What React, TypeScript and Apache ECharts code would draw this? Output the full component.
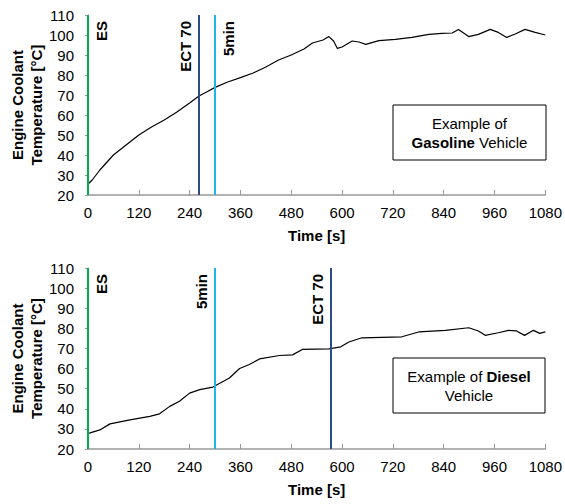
import React, { useEffect, useRef } from "react";
import * as echarts from "echarts";

const FONT = "'Liberation Sans', Arial, sans-serif";

const gasolineTime = [0, 10, 28, 60, 99, 120, 150, 180, 210, 240, 262, 280, 300, 330, 360, 390, 420, 450, 480, 510, 530, 555, 569, 580, 589, 600, 624, 640, 656, 687, 726, 765, 805, 836, 860, 875, 899, 922, 950, 969, 989, 1009, 1032, 1056, 1080];
const gasolineTemp = [25.5, 27.5, 32.5, 40, 46.5, 50, 54, 57.5, 61.5, 66, 69.5, 71.5, 73.8, 76.5, 78.7, 81, 84, 87.5, 90, 93, 96, 97.5, 99.2, 97, 93.3, 94, 97, 96.5, 95.3, 97.2, 97.8, 98.8, 100.3, 100.8, 101, 102.8, 99.2, 100.3, 102.8, 101.3, 98.8, 100.5, 102.8, 101.3, 100];

const dieselTime = [0, 5, 28, 52, 99, 146, 169, 193, 216, 240, 264, 295, 334, 358, 381, 405, 452, 483, 506, 569, 597, 616, 647, 741, 781, 844, 899, 922, 938, 969, 993, 1012, 1031, 1052, 1067, 1080];
const dieselTemp = [27.8, 28, 29.5, 32.5, 34.5, 36.2, 37.5, 41.2, 43.7, 47.8, 49.5, 50.8, 55.3, 60, 62, 64.8, 66.5, 66.8, 69.5, 69.8, 70.8, 73.2, 75.3, 75.8, 78.2, 79, 80.3, 78.7, 76.5, 77.8, 79, 78.7, 76.5, 79, 77.5, 78.2];

const xTicks = { min: 0, max: 1080, interval: 120 };
const yTicks = { min: 20, max: 110, interval: 10 };

const markerNames = ["ES", "ECT 70", "5min"];
const gasolineMarkers = [0, 262, 300];
const dieselMarkers = [0, 573, 300];
const markerColors = ["#00B050", "#2B4C86", "#1EB4EC"];
const gasolineLabelSide = ["insideEndBottom", "insideEndTop", "insideEndBottom"];
const dieselLabelSide = ["insideEndBottom", "insideEndTop", "insideEndTop"];

const xAxisTitle = "Time [s]";
const yAxisTitle = ["Engine Coolant", "Temperature [°C]"];

function markLines(values: number[], sides: string[]) {
  return values.map((v, i) => [
    {
      name: markerNames[i],
      coord: [v, yTicks.min],
      lineStyle: { color: markerColors[i], width: 2, type: "solid" },
      label: {
        show: true,
        formatter: markerNames[i],
        position: sides[i],
        distance: 6,
        color: "#000",
        fontWeight: "bold",
        fontSize: 15,
        fontFamily: FONT,
      },
    },
    { coord: [v, yTicks.max] },
  ]);
}

export default function App() {
  const ref = useRef<HTMLDivElement>(null);
  useEffect(() => {
    if (!ref.current) return;
    const chart = echarts.init(ref.current, null, { renderer: "svg" });
    const grids = [
      { left: 88, top: 15, width: 459, height: 180 },
      { left: 88, top: 268, width: 459, height: 181 },
    ];
    const xAxisCommon = {
      type: "value",
      ...xTicks,
      name: xAxisTitle,
      nameLocation: "middle",
      nameGap: 33,
      nameTextStyle: { fontWeight: "bold", fontSize: 15, color: "#000", fontFamily: FONT },
      axisLine: { show: true, lineStyle: { color: "#999", width: 1.5 } },
      axisTick: { show: true, inside: true, length: 5, lineStyle: { color: "#999" } },
      axisLabel: { color: "#000", fontSize: 15, margin: 10, fontFamily: FONT, formatter: (v: number) => String(v) },
      splitLine: { show: false },
    };
    const yAxisCommon = {
      type: "value",
      ...yTicks,
      axisLine: { show: true, lineStyle: { color: "#999" } },
      axisTick: { show: true, inside: false, length: 3, lineStyle: { color: "#999" } },
      axisLabel: { color: "#000", fontSize: 15, margin: 14, fontFamily: FONT },
      splitLine: { show: false },
    };
    const yTitle = (cy: number) =>
      yAxisTitle.map((t, i) => ({
        type: "text",
        x: 17 + i * 19,
        y: cy,
        rotation: Math.PI / 2,
        style: {
          text: t,
          fill: "#000",
          font: `bold 15px ${FONT}`,
          textAlign: "center",
          textVerticalAlign: "middle",
        },
      }));
    const box = (x: number, y: number, w: number, h: number, text: string) => [
      {
        type: "rect",
        shape: { x, y, width: w, height: h },
        style: { fill: "#fff", stroke: "#000", lineWidth: 1 },
        z: 10,
      },
      {
        type: "text",
        x: x + w / 2,
        y: y + h / 2,
        z: 11,
        style: {
          text,
          textAlign: "center",
          textVerticalAlign: "middle",
          fill: "#000",
          font: `15px ${FONT}`,
          lineHeight: 19,
          rich: {
            n: { fontSize: 15, fontFamily: FONT, color: "#000", lineHeight: 19 },
            b: { fontSize: 15, fontFamily: FONT, fontWeight: "bold", color: "#000", lineHeight: 19 },
          },
        },
      },
    ];
    chart.setOption({
      animation: false,
      backgroundColor: "#fff",
      grid: grids,
      xAxis: [
        { ...xAxisCommon, gridIndex: 0 },
        { ...xAxisCommon, gridIndex: 1 },
      ],
      yAxis: [
        { ...yAxisCommon, gridIndex: 0 },
        { ...yAxisCommon, gridIndex: 1 },
      ],
      series: [
        {
          type: "line",
          xAxisIndex: 0,
          yAxisIndex: 0,
          data: gasolineTime.map((t, i) => [t, gasolineTemp[i]]),
          showSymbol: false,
          lineStyle: { color: "#000", width: 1.2 },
          z: 3,
          markLine: { silent: true, symbol: "none", data: markLines(gasolineMarkers, gasolineLabelSide) },
        },
        {
          type: "line",
          xAxisIndex: 1,
          yAxisIndex: 1,
          data: dieselTime.map((t, i) => [t, dieselTemp[i]]),
          showSymbol: false,
          lineStyle: { color: "#000", width: 1.2 },
          z: 3,
          markLine: { silent: true, symbol: "none", data: markLines(dieselMarkers, dieselLabelSide) },
        },
      ],
      graphic: [
        ...yTitle(105),
        ...yTitle(358.5),
        ...box(393, 105, 153, 55, "{n|Example of}\n{b|Gasoline}{n| Vehicle}"),
        ...box(393, 358, 152, 55, "{n|Example of }{b|Diesel}\n{n|Vehicle}"),
      ],
    });
    return () => chart.dispose();
  }, []);
  return (
    <div
      ref={ref}
      style={{ position: "absolute", left: 0, top: 0, width: 565, height: 504 }}
    />
  );
}
